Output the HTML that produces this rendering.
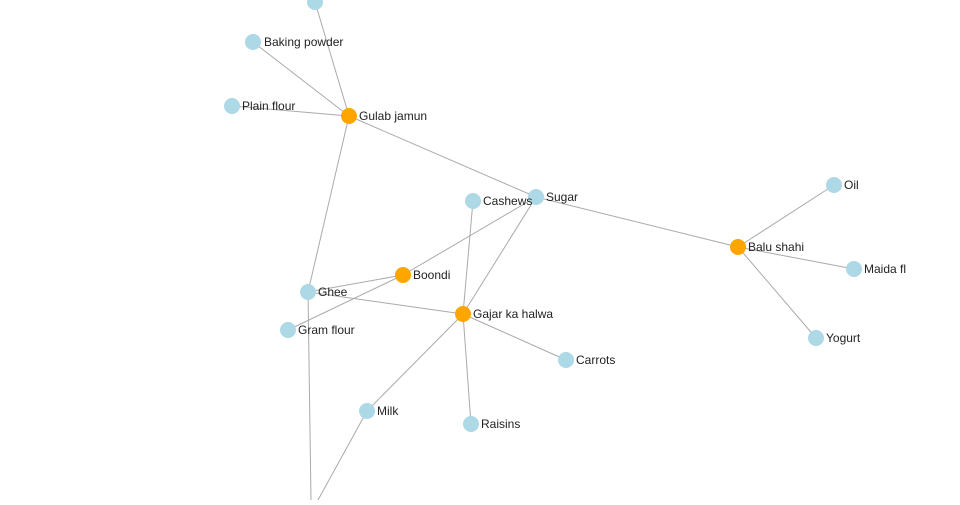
<!DOCTYPE html>
<html><head><style>
html,body{margin:0;padding:0;background:#fff}
text{font-family:"Liberation Sans",sans-serif;font-size:12px;fill:#222}
</style></head><body>
<svg width="960" height="500" xmlns="http://www.w3.org/2000/svg">
<g stroke="#aaa" stroke-width="1">
<line x1="315" y1="2" x2="349" y2="116"/>
<line x1="253" y1="42" x2="349" y2="116"/>
<line x1="232" y1="106" x2="349" y2="116"/>
<line x1="349" y1="116" x2="536" y2="197"/>
<line x1="349" y1="116" x2="308" y2="292"/>
<line x1="536" y1="197" x2="738" y2="247"/>
<line x1="536" y1="197" x2="403" y2="275"/>
<line x1="536" y1="197" x2="463" y2="314"/>
<line x1="473" y1="201" x2="463" y2="314"/>
<line x1="738" y1="247" x2="834" y2="185"/>
<line x1="738" y1="247" x2="854" y2="269"/>
<line x1="738" y1="247" x2="816" y2="338"/>
<line x1="403" y1="275" x2="308" y2="292"/>
<line x1="403" y1="275" x2="288" y2="330"/>
<line x1="308" y1="292" x2="463" y2="314"/>
<line x1="308" y1="292" x2="311" y2="500"/>
<line x1="367" y1="411" x2="318" y2="500"/>
<line x1="463" y1="314" x2="367" y2="411"/>
<line x1="463" y1="314" x2="566" y2="360"/>
<line x1="463" y1="314" x2="471" y2="424"/>
</g>
<g fill="#add8e6">
<circle cx="315" cy="2" r="8"/>
<circle cx="253" cy="42" r="8"/>
<circle cx="232" cy="106" r="8"/>
<circle cx="536" cy="197" r="8"/>
<circle cx="473" cy="201" r="8"/>
<circle cx="834" cy="185" r="8"/>
<circle cx="854" cy="269" r="8"/>
<circle cx="816" cy="338" r="8"/>
<circle cx="308" cy="292" r="8"/>
<circle cx="288" cy="330" r="8"/>
<circle cx="566" cy="360" r="8"/>
<circle cx="367" cy="411" r="8"/>
<circle cx="471" cy="424" r="8"/>
</g>
<g fill="#ffa500">
<circle cx="349" cy="116" r="8"/>
<circle cx="738" cy="247" r="8"/>
<circle cx="403" cy="275" r="8"/>
<circle cx="463" cy="314" r="8"/>
</g>
<text x="264" y="46">Baking powder</text>
<text x="242" y="110">Plain flour</text>
<text x="359" y="120">Gulab jamun</text>
<text x="546" y="201">Sugar</text>
<text x="483" y="205">Cashews</text>
<text x="748" y="251">Balu shahi</text>
<text x="844" y="189">Oil</text>
<text x="864" y="273">Maida fl</text>
<text x="826" y="342">Yogurt</text>
<text x="413" y="279">Boondi</text>
<text x="318" y="296">Ghee</text>
<text x="298" y="334">Gram flour</text>
<text x="473" y="318">Gajar ka halwa</text>
<text x="576" y="364">Carrots</text>
<text x="377" y="415">Milk</text>
<text x="481" y="428">Raisins</text>
</svg>
</body></html>
